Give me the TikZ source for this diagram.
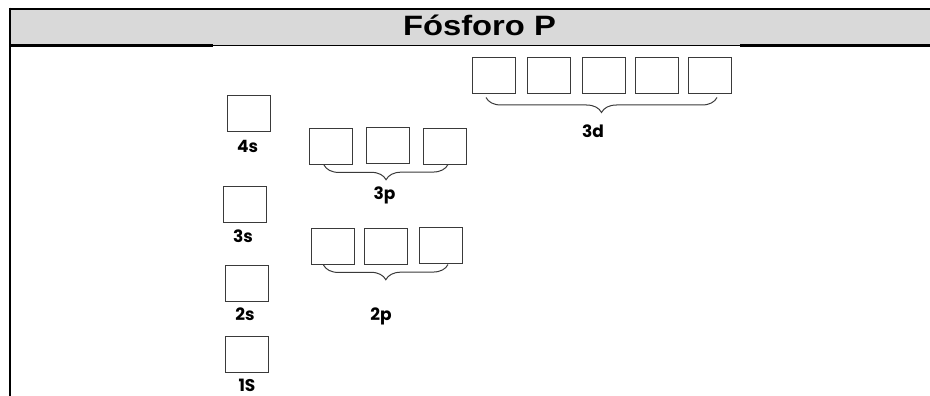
\documentclass[tikz,border=0pt]{standalone}
\usepackage{fontspec}
\setmainfont{Liberation Sans}
\newfontfamily\lblfont{Poppins}
\usetikzlibrary{decorations.pathreplacing,calc}
\definecolor{hdrgray}{HTML}{D9D9D9}
\definecolor{boxline}{HTML}{3A3A3A}
\tikzset{
  orb/.style={draw=boxline, line width=1pt, minimum width=43pt, minimum height=36pt, inner sep=0pt},
  lbl/.style={font=\lblfont\bfseries\fontsize{17}{18}\selectfont, anchor=base, inner sep=0pt},
  brc/.style={draw=boxline, line width=1pt, decorate, decoration={brace, mirror, amplitude=15pt, aspect=0.5}},
  frameline/.style={line width=2.6pt, black}
}
\begin{document}
\begin{tikzpicture}[x=1pt, y=-1pt]
\useasboundingbox (0,0) rectangle (930,396);
% header
\fill[hdrgray] (9,9) rectangle (930,45);
\draw[frameline] (9,9) -- (930,9);
\draw[line width=1.4pt] (9,45.5) -- (930,45.5);
\draw[frameline] (9,45.7) -- (213,45.7);
\draw[frameline] (740,45.7) -- (930,45.7);
\draw[frameline] (10,7.7) -- (10,396);
\node[anchor=base, inner sep=0pt] (title) at (479.5,36) {\scalebox{1.17}[1]{\fontsize{28}{30}\selectfont\bfseries Fósforo P}};
% s orbitals
\node[orb] (s4) at (248.5,113.5) {};
\node[orb] (s3) at (245,204) {};
\node[orb] (s2) at (246.5,283) {};
\node[orb] (s1) at (246.5,354) {};
\node[lbl] (l4s) at (247.5,152) {4s};
\node[lbl] (l3s) at (243,242) {3s};
\node[lbl] (l2s) at (245,320) {2s};
\node[lbl] (l1s) at (247,391) {1S};
% 3p
\node[orb] (p31) at (331,146.5) {};
\node[orb] (p32) at (388,145.5) {};
\node[orb] (p33) at (445,146) {};
\draw[brc] ($(p31.south west)+(15,0)$) -- ($(p33.south east)+(-19,0)$);
\node[lbl] (l3p) at (384.5,199) {3p};
% 2p
\node[orb] (p21) at (332.5,246.5) {};
\node[orb] (p22) at (386,246) {};
\node[orb] (p23) at (441,245) {};
\draw[brc] ($(p21.south west)+(13,0)$) -- ($(p23.south east)+(-15,1)$);
\node[lbl] (l2p) at (381,320) {2p};
% 3d
\node[orb] (d1) at (494,76) {};
\node[orb] (d2) at (548.5,76) {};
\node[orb] (d3) at (604,76) {};
\node[orb] (d4) at (656.5,76) {};
\node[orb] (d5) at (710,76) {};
\draw[brc] ($(d1.south west)+(14,3)$) -- ($(d5.south east)+(-15,3)$);
\node[lbl] (l3d) at (593,137) {3d};
\end{tikzpicture}
\end{document}
